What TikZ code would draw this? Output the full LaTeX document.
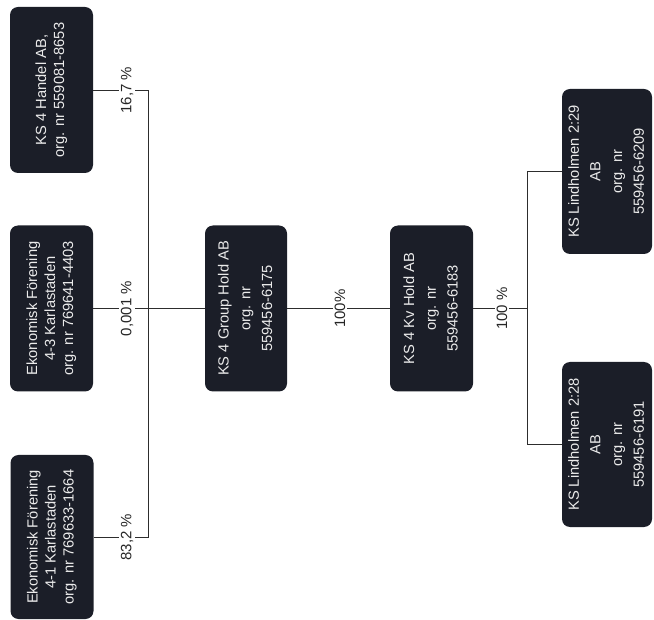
\documentclass[tikz,border=0pt]{standalone}
\usepackage{fontspec}
\setmainfont{Liberation Sans}
\usepackage{graphicx}
\definecolor{boxc}{RGB}{27,30,40}
\definecolor{linec}{RGB}{45,45,45}
\tikzset{
  entity/.style={fill=boxc, rounded corners=8pt, text=white!92!black, inner sep=0pt,
    minimum width=83pt, minimum height=166pt},
  pct/.style={fill=white, inner xsep=2pt, inner ysep=3pt, text=black!85},
  link/.style={draw=linec, line width=0.8pt}
}
\newcommand{\rtext}[2]{\rotatebox{90}{\fontsize{14.7}{#1}\selectfont\begin{tabular}{@{}c@{}}#2\end{tabular}}}
\newcommand{\rpct}[1]{\rotatebox{90}{\fontsize{15}{18}\selectfont #1}}
\begin{document}
\begin{tikzpicture}[x=1pt,y=-1pt]
\useasboundingbox (0,0) rectangle (654,620);
% boxes
\node[entity] (handel) at (51.5,90) {\rtext{18}{KS 4 Handel AB,\\org. nr 559081-8653}};
\node[entity] (ek43) at (51.5,308.5) {\rtext{18}{Ekonomisk Förening\\4-3 Karlastaden\\org. nr 769641-4403}};
\node[entity, minimum height=164pt] (ek41) at (52,537) {\rtext{18}{Ekonomisk Förening\\4-1 Karlastaden\\org. nr 769633-1664}};
\node[entity, minimum width=82pt] (group) at (246,308.5) {\rtext{21.7}{KS 4 Group Hold AB\\org. nr\\559456-6175}};
\node[entity] (kv) at (431.5,308.5) {\rtext{21.7}{KS 4 Kv Hold AB\\org. nr\\559456-6183}};
\node[entity, minimum width=90pt, minimum height=165pt] (l29) at (607,171.5) {\rtext{21.7}{KS Lindholmen 2:29\\AB\\org. nr\\559456-6209}};
\node[entity, minimum width=90pt, minimum height=165pt] (l28) at (607,444.5) {\rtext{21.7}{KS Lindholmen 2:28\\AB\\org. nr\\559456-6191}};
% buses
\coordinate (busA) at (148,308.5);
\coordinate (busB) at (527,308.5);
% connectors
\draw[link] (handel.east) -- (handel.east -| busA) -- (ek41.east -| busA) -- (ek41.east);
\draw[link] (ek43.east) -- (group.west);
\draw[link] (group.east) -- (kv.west);
\draw[link] (kv.east) -- (busB);
\draw[link] (l29.west) -- (l29.west -| busB) -- (l28.west -| busB) -- (l28.west);
% labels
\node[pct] (p1) at (127,90) {\rpct{16,7 \%}};
\node[pct] (p2) at (127,308.5) {\rpct{0,001 \%}};
\node[pct] (p3) at (127,537) {\rpct{83,2 \%}};
\node[pct] (p4) at (340,308.5) {\rpct{100\%}};
\node[pct] (p5) at (502,308.5) {\rpct{100 \%}};
\end{tikzpicture}
\end{document}
